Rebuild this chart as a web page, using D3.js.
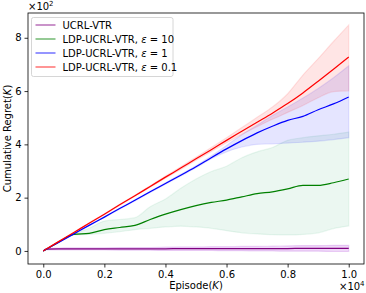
<!DOCTYPE html>
<html>
<head>
<meta charset="utf-8">
<script src="https://cdn.jsdelivr.net/npm/d3@7"></script>
<style>
  body { margin: 0; background: #fff; }
  text { font-family: "DejaVu Sans", sans-serif; fill: #000; }
</style>
</head>
<body>
<div id="chart"></div>
<script>
(function() {

    var width = 366;
    var height = 293;

    // episodes (shared x for every series)
    var episodes = [0, 100, 500, 1000, 1500, 2000, 2500, 3000, 3500, 4000, 4500, 5000,
                    5500, 6000, 6500, 7000, 7500, 8000, 8500, 9000, 9500, 10000];

    var ucrlMean = [0, 7, 8, 8, 8, 8, 8, 8, 8, 8, 9, 9, 9, 9, 9, 9, 9, 9, 10, 10, 10, 10];
    var ucrlLow  = [0, 4, 4, 4, 4, 4, 3, 3, 3, 2, 2, 2, 2, 1, 1, 0, 0, -1, -1, -1, -2, -2];
    var ucrlHigh = [0, 10, 11, 12, 12, 12, 13, 13, 13, 14, 15, 15, 16, 16, 17, 17, 18, 19, 20, 20, 21, 21];

    var eps10Mean = [0, 6.5, 33, 62, 66, 80, 88, 96, 118, 138, 155, 170, 182, 191, 203, 215, 222, 233, 246, 246, 256, 270];
    var eps10Low  = [0, 6.5, 33, 60, 62, 66, 72, 80, 85, 90, 93, 90, 85, 76, 68, 64, 61, 60, 62, 68, 84, 94];
    var eps10High = [0, 6.5, 33, 64, 85, 112, 118, 125, 166, 195, 235, 270, 298, 318, 350, 372, 388, 415, 425, 432, 438, 446];

    var eps1Mean = [0, 6.4, 32, 64, 96, 127, 159, 190, 222, 253, 284, 316, 350, 383, 414, 443, 468, 490, 505, 530, 552, 578];
    var eps1Low  = [0, 6.4, 32, 63, 95, 126, 157, 188, 219, 250, 281, 312, 346, 372, 390, 400, 402, 405, 408, 412, 418, 425];
    var eps1High = [0, 6.4, 32, 65, 97, 128, 160, 192, 224, 256, 288, 320, 356, 396, 436, 472, 508, 540, 574, 610, 650, 695];

    var eps01Mean = [0, 7, 35, 69, 104, 138, 173, 207, 242, 277, 311, 346, 380, 415, 449, 483, 517, 553, 593, 637, 682, 728];
    var eps01Low  = [0, 7, 35, 68, 102, 136, 171, 205, 239, 273, 306, 340, 373, 406, 437, 466, 494, 520, 546, 575, 598, 601];
    var eps01High = [0, 7, 35, 70, 106, 140, 175, 209, 245, 281, 316, 352, 388, 425, 463, 502, 540, 590, 660, 722, 786, 848];

    var legendNames = ["UCRL-VTR", "LDP-UCRL-VTR, \u03b5 = 10", "LDP-UCRL-VTR, \u03b5 = 1", "LDP-UCRL-VTR, \u03b5 = 0.1"];

    var xTicks = [0, 2000, 4000, 6000, 8000, 10000];
    var yTicks = [0, 200, 400, 600, 800];

    var series = [
        {name: legendNames[0], color: "#800080", band: "#9400d3", bandAlpha: 0.15, mean: ucrlMean, low: ucrlLow, high: ucrlHigh},
        {name: legendNames[1], color: "#008000", band: "#3cb371", bandAlpha: 0.1, mean: eps10Mean, low: eps10Low, high: eps10High},
        {name: legendNames[2], color: "#0000ff", band: "#0000ff", bandAlpha: 0.1, mean: eps1Mean, low: eps1Low, high: eps1High},
        {name: legendNames[3], color: "#ff0000", band: "#ff0000", bandAlpha: 0.1, mean: eps01Mean, low: eps01Low, high: eps01High}
    ];

    var left = 28, right = 364, top = 13, bottom = 264;
    var fs = "10px";

    var x = d3.scaleLinear().domain([-500, 10500]).range([left, right]);
    var y = d3.scaleLinear().domain([-49, 893]).range([bottom, top]);

    var svg = d3.select("#chart")
        .append("svg")
        .attr("width", width)
        .attr("height", height);

    var plot = svg.append("g");

    var line = d3.line()
        .x(function (d, i) { return x(episodes[i]); })
        .y(function (d) { return y(d); })
        .curve(d3.curveMonotoneX);

    series.forEach(function (s) {
        var area = d3.area()
            .x(function (d, i) { return x(episodes[i]); })
            .y0(function (d, i) { return y(s.low[i]); })
            .y1(function (d, i) { return y(s.high[i]); })
            .curve(d3.curveMonotoneX);

        plot.append("path")
            .datum(s.mean)
            .attr("d", area)
            .attr("fill", s.band)
            .attr("fill-opacity", s.bandAlpha)
            .attr("stroke", s.band)
            .attr("stroke-opacity", s.bandAlpha)
            .attr("stroke-width", 1.2);

        plot.append("path")
            .datum(s.mean)
            .attr("d", line)
            .attr("fill", "none")
            .attr("stroke", s.color)
            .attr("stroke-width", 1.2);
    });

    // axes
    var xAxis = d3.axisBottom(x).tickValues(xTicks).tickSize(3.5).tickPadding(3)
        .tickFormat(function (d) { return d3.format(".1f")(d / 10000); });
    var yAxis = d3.axisLeft(y).tickValues(yTicks).tickSize(3.5).tickPadding(3)
        .tickFormat(function (d) { return d / 100; });

    var gx = svg.append("g").attr("transform", "translate(0," + bottom + ")").call(xAxis);
    var gy = svg.append("g").attr("transform", "translate(" + left + ",0)").call(yAxis);

    [gx, gy].forEach(function (g) {
        g.select(".domain").remove();
        g.selectAll("text").style("font-size", fs).attr("fill", "#000");
        g.selectAll("line").attr("stroke", "#000").attr("stroke-width", 0.8);
    });

    svg.append("rect")
        .attr("x", left).attr("y", top)
        .attr("width", right - left).attr("height", bottom - top)
        .attr("fill", "none").attr("stroke", "#000").attr("stroke-width", 0.8);

    // multipliers
    var m1 = svg.append("text").attr("x", left).attr("y", 10).style("font-size", fs);
    m1.append("tspan").text("\u00d710");
    m1.append("tspan").attr("dy", -4).style("font-size", "7px").text("2");

    var m2 = svg.append("text").attr("x", 339).attr("y", 290).style("font-size", fs);
    m2.append("tspan").text("\u00d710");
    m2.append("tspan").attr("dy", -4).style("font-size", "7px").text("4");

    // axis labels
    var xl = svg.append("text").attr("x", (left + right) / 2).attr("y", 289)
        .attr("text-anchor", "middle").style("font-size", fs);
    xl.append("tspan").text("Episode(");
    xl.append("tspan").style("font-style", "italic").text("K");
    xl.append("tspan").text(")");

    var yl = svg.append("text")
        .attr("transform", "translate(11," + ((top + bottom) / 2) + ") rotate(-90)")
        .attr("text-anchor", "middle").style("font-size", fs);
    yl.append("tspan").text("Cumulative Regret(");
    yl.append("tspan").style("font-style", "italic").text("K");
    yl.append("tspan").text(")");

    // legend
    var legend = svg.append("g");
    legend.append("rect")
        .attr("x", 31.5).attr("y", 17.5).attr("width", 141.5).attr("height", 59)
        .attr("rx", 2)
        .attr("fill", "#fff").attr("fill-opacity", 0.8)
        .attr("stroke", "#ccc").attr("stroke-width", 0.8);

    series.forEach(function (s, i) {
        var ly = 25 + i * 14;
        legend.append("line")
            .attr("x1", 35.5).attr("x2", 55.5).attr("y1", ly).attr("y2", ly)
            .attr("stroke", s.color).attr("stroke-opacity", 0.7).attr("stroke-width", 1.2);
        var t = legend.append("text").attr("x", 62.5).attr("y", ly + 3.5).style("font-size", fs);
        if (i === 0) {
            t.text(s.name);
        } else {
            var parts = s.name.split("\u03b5");
            t.append("tspan").text(parts[0]);
            t.append("tspan").style("font-style", "italic").text("\u03b5");
            t.append("tspan").text(parts[1]);
        }
    });

})();
</script>
</body>
</html>
